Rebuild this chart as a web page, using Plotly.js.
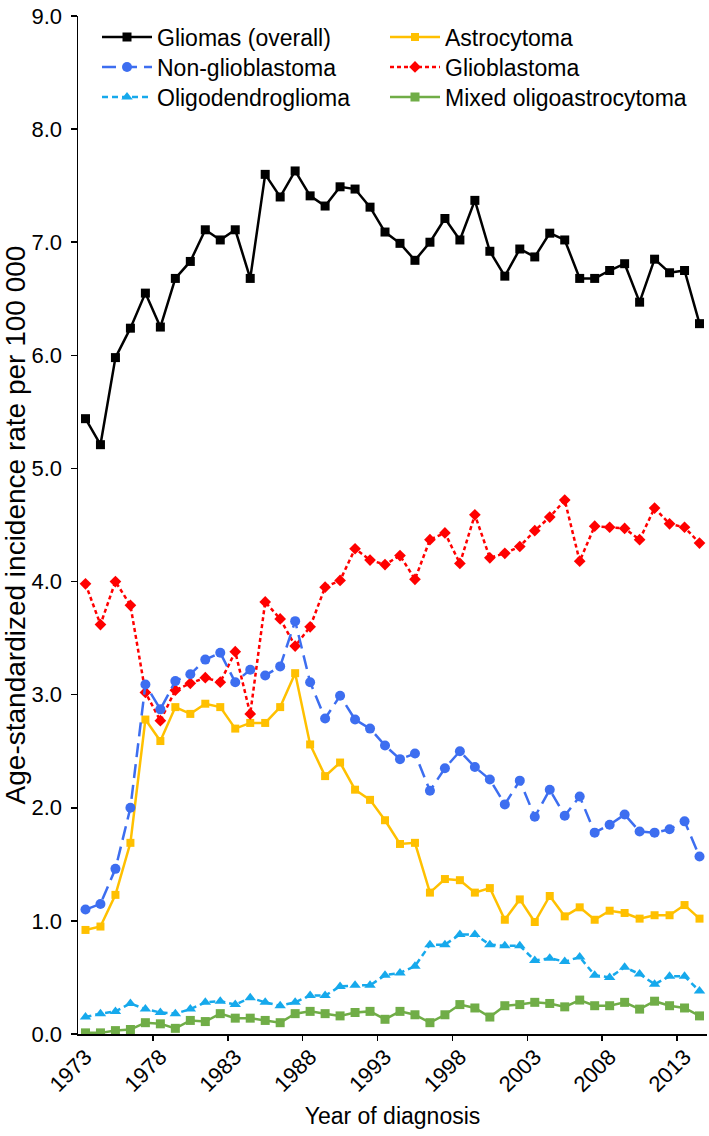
<!DOCTYPE html>
<html>
<head>
<meta charset="utf-8">
<script src="https://cdn.plot.ly/plotly-3.0.1.min.js"></script>
<style>html,body{margin:0;padding:0;background:#fff;}#chart{width:709px;height:1136px;}</style>
</head>
<body>
<div id="chart"></div>
<script>
const years = [];
for (let y = 1973; y <= 2014; y++) years.push(y);

const gliomas = [5.44,5.21,5.98,6.24,6.55,6.25,6.68,6.83,7.11,7.02,7.11,6.68,7.60,7.40,7.63,7.41,7.32,7.49,7.47,7.31,7.09,6.99,6.84,7.00,7.21,7.02,7.37,6.92,6.70,6.94,6.87,7.08,7.02,6.68,6.68,6.75,6.81,6.47,6.85,6.73,6.75,6.28];
const nonGlioblastoma = [1.10,1.15,1.46,2.00,3.09,2.87,3.12,3.18,3.31,3.37,3.11,3.22,3.17,3.25,3.65,3.11,2.79,2.99,2.78,2.70,2.55,2.43,2.48,2.15,2.35,2.50,2.36,2.25,2.03,2.24,1.92,2.16,1.93,2.10,1.78,1.85,1.94,1.79,1.78,1.81,1.88,1.57];
const oligodendroglioma = [0.15,0.18,0.20,0.27,0.22,0.19,0.18,0.22,0.28,0.29,0.26,0.32,0.28,0.25,0.28,0.34,0.34,0.42,0.43,0.43,0.52,0.54,0.60,0.79,0.79,0.88,0.88,0.79,0.78,0.78,0.65,0.67,0.64,0.68,0.52,0.50,0.59,0.53,0.44,0.51,0.51,0.38];
const astrocytoma = [0.92,0.95,1.23,1.69,2.78,2.59,2.89,2.83,2.92,2.89,2.70,2.75,2.75,2.89,3.19,2.56,2.28,2.40,2.16,2.07,1.89,1.68,1.69,1.25,1.37,1.36,1.25,1.29,1.01,1.19,0.99,1.22,1.04,1.12,1.01,1.09,1.07,1.02,1.05,1.05,1.14,1.02];
const glioblastoma = [3.98,3.62,4.00,3.79,3.02,2.77,3.04,3.10,3.15,3.11,3.38,2.83,3.82,3.67,3.43,3.60,3.95,4.01,4.29,4.19,4.15,4.23,4.02,4.37,4.43,4.16,4.59,4.21,4.25,4.31,4.45,4.57,4.72,4.18,4.49,4.48,4.47,4.37,4.65,4.51,4.48,4.34];
const mixed = [0.01,0.01,0.03,0.04,0.10,0.09,0.05,0.12,0.11,0.18,0.14,0.14,0.12,0.10,0.18,0.20,0.18,0.16,0.19,0.20,0.13,0.20,0.17,0.10,0.17,0.26,0.23,0.15,0.25,0.26,0.28,0.27,0.24,0.30,0.25,0.25,0.28,0.22,0.29,0.25,0.23,0.16];

const labelYears = [1973,1978,1983,1988,1993,1998,2003,2008,2013];
const tickBoundaries = [1977.5,1982.5,1987.5,1992.5,1997.5,2002.5,2007.5,2012.5];
const yTicks = [0,1,2,3,4,5,6,7,8,9];
const yTickText = yTicks.map(v => v.toFixed(1));

const FONT = 'Arial, "Liberation Sans", sans-serif';
const LEGEND_FONT = 23;

function tr(name, y, color, dash, symbol, msize, legendId) {
  return {
    x: years, y: y, name: name, type: 'scatter', mode: 'lines+markers',
    line: {color: color, width: 2.5, dash: dash},
    marker: {color: color, symbol: symbol, size: msize},
    legend: legendId
  };
}

const data = [
  tr('Mixed oligoastrocytoma', mixed, '#70AD47', 'solid', 'square', 9, 'legend6'),
  tr('Oligodendroglioma', oligodendroglioma, '#16A9EC', '6px,4px', 'triangle-up', 10, 'legend3'),
  tr('Astrocytoma', astrocytoma, '#FFC000', 'solid', 'square', 8, 'legend4'),
  tr('Glioblastoma', glioblastoma, '#FF0000', '4px,3px', 'diamond', 9, 'legend5'),
  tr('Non-glioblastoma', nonGlioblastoma, '#3D6EF0', '14px,7px', 'circle', 10, 'legend2'),
  tr('Gliomas (overall)', gliomas, '#000000', 'solid', 'square', 9, 'legend'),
  {x:[1973], y:[0], xaxis:'x2', yaxis:'y', type:'scatter', mode:'markers', marker:{opacity:0}, showlegend:false, hoverinfo:'skip'}
];

function leg(xp, yp) {
  return {x: xp, y: yp, xanchor: 'left', yanchor: 'middle', itemwidth: 50,
    font: {family: FONT, size: LEGEND_FONT, color: '#000'}, bgcolor: 'rgba(0,0,0,0)', borderwidth: 0};
}
const col1 = (97 - 78) / 629, col2 = (385 - 78) / 629;
const row = p => (1034 - p) / 1018;

const layout = {
  width: 709, height: 1136,
  margin: {l: 78, r: 2, t: 16, b: 102},
  paper_bgcolor: '#fff', plot_bgcolor: '#fff',
  font: {family: FONT, size: 22, color: '#000'},
  showlegend: true,
  legend: leg(col1, row(37)),
  legend2: leg(col1, row(67)),
  legend3: leg(col1, row(97)),
  legend4: leg(col2, row(37)),
  legend5: leg(col2, row(67)),
  legend6: leg(col2, row(97)),
  xaxis: {
    range: [1972.5, 2014.5], tickmode: 'array', tickvals: labelYears,
    ticktext: labelYears.map(String), tickangle: -45, ticks: '',
    showline: true, linecolor: '#000', linewidth: 1.5, showgrid: false, zeroline: false,
    tickfont: {family: FONT, size: 22},
    title: {text: 'Year of diagnosis', font: {family: FONT, size: 23}, standoff: 12}
  },
  xaxis2: {
    overlaying: 'x', anchor: 'y', side: 'bottom', range: [1972.5, 2014.5],
    tickmode: 'array', tickvals: tickBoundaries, ticks: 'outside', ticklen: 6,
    tickcolor: '#000', tickwidth: 1.5, showticklabels: false, showline: false,
    showgrid: false, zeroline: false
  },
  yaxis: {
    range: [0, 9], tickmode: 'array', tickvals: yTicks, ticktext: yTickText,
    ticks: 'outside', ticklen: 6, tickcolor: '#000', tickwidth: 1.5,
    showline: true, linecolor: '#000', linewidth: 1.5, showgrid: false, zeroline: false,
    tickfont: {family: FONT, size: 22}, ticklabelstandoff: 4,
    title: {text: 'Age-standardized incidence rate per 100 000', font: {family: FONT, size: 28}, standoff: 3}
  }
};

Plotly.newPlot('chart', data, layout, {displayModeBar: false, staticPlot: true});
</script>
</body>
</html>
